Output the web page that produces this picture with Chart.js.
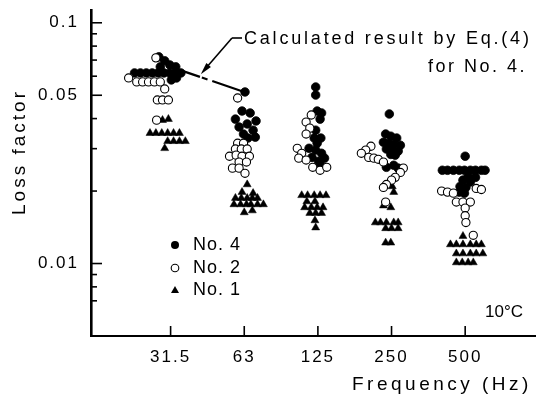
<!DOCTYPE html>
<html lang="en">
<head>
    <meta charset="UTF-8">
    <title>Loss factor vs frequency</title>
    <script src="https://cdn.jsdelivr.net/npm/chart.js"></script>
    <style>
        body {
            margin: 0;
            padding: 0;
            background-color: #fff;
            overflow: hidden;
        }
        canvas {
            display: block;
        }
    </style>
</head>
<body>

    <canvas id="lossChart" width="541" height="401"></canvas>

    <script>
        // Frequency bands (Hz)
        const categories = ['31.5', '63', '125', '250', '500'];

        // Measured points, one list per band: [offset from band centre, loss factor]
        const no4 = [
            [[-0.16, 0.0722], [-0.08, 0.0695], [-0.01, 0.0668], [-0.14, 0.0656], [0.07, 0.0656],
             [-0.49, 0.0619], [-0.41, 0.0619], [-0.33, 0.0619], [-0.25, 0.0619], [-0.17, 0.0619],
             [-0.09, 0.0619], [-0.01, 0.0619], [0.07, 0.0619], [0.14, 0.0619], [0.01, 0.0579], [0.08, 0.0590]],
            [[0.01, 0.0516], [-0.12, 0.0398], [-0.03, 0.0430], [0.08, 0.0422], [0.16, 0.0391], [-0.07, 0.0369],
             [0.04, 0.0380], [0.12, 0.0358], [-0.01, 0.0345], [0.05, 0.0332], [0.15, 0.0335]],
            [[-0.03, 0.0541], [-0.03, 0.0501], [-0.01, 0.0430], [0.05, 0.0422], [0.03, 0.0398], [-0.03, 0.0358],
             [-0.05, 0.0332], [0.04, 0.0332], [-0.01, 0.0316], [-0.12, 0.0301], [-0.03, 0.0296], [0.05, 0.0287],
             [0.09, 0.0274], [0.01, 0.0266], [-0.08, 0.0276], [0.04, 0.0256]],
            [[-0.03, 0.0418], [-0.08, 0.0345], [-0.01, 0.0338], [0.07, 0.0332], [-0.11, 0.0319], [-0.04, 0.0316],
             [0.03, 0.0313], [0.12, 0.0310], [-0.07, 0.0299], [0.01, 0.0296], [0.09, 0.0293], [-0.01, 0.0284],
             [0.05, 0.0282], [-0.07, 0.0251], [0.03, 0.0256], [0.09, 0.0249]],
            [[0, 0.0279], [-0.31, 0.0244], [-0.24, 0.0244], [-0.16, 0.0244], [-0.08, 0.0244], [-0.01, 0.0244],
             [0.07, 0.0244], [0.14, 0.0244], [0.22, 0.0244], [0.27, 0.0244], [0.04, 0.0230], [0.14, 0.0228],
             [-0.03, 0.0222], [0.07, 0.0218], [-0.07, 0.0209], [0.01, 0.0207], [-0.08, 0.0198], [-0.01, 0.0196]]
        ];

        const no2 = [
            [[-0.20, 0.0715], [-0.57, 0.0590], [-0.46, 0.0568], [-0.38, 0.0568], [-0.30, 0.0568], [-0.22, 0.0568],
             [-0.14, 0.0568], [-0.08, 0.0531], [-0.18, 0.0478], [-0.11, 0.0478], [-0.03, 0.0478], [-0.19, 0.0394]],
            [[-0.09, 0.0487], [-0.09, 0.0316], [-0.01, 0.0316], [-0.12, 0.0299], [-0.04, 0.0299], [0.04, 0.0299],
             [-0.20, 0.0279], [-0.11, 0.0282], [-0.03, 0.0279], [0.07, 0.0279], [-0.07, 0.0264], [0.03, 0.0264],
             [-0.16, 0.0249], [-0.07, 0.0249], [0.01, 0.0237]],
            [[-0.09, 0.0414], [-0.16, 0.0387], [-0.11, 0.0365], [-0.16, 0.0345], [-0.28, 0.0301], [-0.22, 0.0287],
             [-0.26, 0.0274], [-0.16, 0.0269], [-0.07, 0.0251], [0.03, 0.0244], [0.12, 0.0251]],
            [[-0.28, 0.0307], [-0.35, 0.0296], [-0.41, 0.0287], [-0.31, 0.0276], [-0.24, 0.0274], [-0.18, 0.0271],
             [-0.11, 0.0264], [0.16, 0.0249], [0.12, 0.0239], [0.05, 0.0228], [0, 0.0222], [-0.07, 0.0213],
             [-0.11, 0.0207], [-0.08, 0.0180]],
            [[-0.32, 0.0200], [-0.24, 0.0198], [-0.16, 0.0196], [0.15, 0.0205], [0.22, 0.0203], [-0.12, 0.0180],
             [-0.03, 0.0180], [0.07, 0.0180], [0, 0.0170], [0, 0.0158], [0.01, 0.0148], [0.11, 0.0131]]
        ];

        const no1 = [
            [[-0.11, 0.0394], [-0.03, 0.0398], [-0.28, 0.0348], [-0.20, 0.0348], [-0.12, 0.0348], [-0.04, 0.0348],
             [0.04, 0.0348], [0.12, 0.0348], [-0.04, 0.0322], [0.04, 0.0322], [0.12, 0.0322], [0.20, 0.0322],
             [-0.08, 0.0301]],
            [[0.04, 0.0213], [-0.03, 0.0198], [0.12, 0.0196], [-0.12, 0.0187], [-0.04, 0.0187], [0.04, 0.0187],
             [0.11, 0.0187], [0.18, 0.0187], [-0.14, 0.0176], [-0.05, 0.0176], [0.03, 0.0176], [0.09, 0.0176],
             [0.18, 0.0176], [0.26, 0.0176], [0, 0.0163], [0.11, 0.0166]],
            [[-0.22, 0.0192], [-0.14, 0.0192], [-0.05, 0.0192], [0.03, 0.0192], [0.11, 0.0192], [-0.15, 0.0181],
             [-0.04, 0.0181], [-0.18, 0.0171], [-0.09, 0.0171], [-0.01, 0.0171], [0.07, 0.0171], [-0.11, 0.0162],
             [-0.03, 0.0162], [0.05, 0.0162], [-0.04, 0.0151], [-0.03, 0.0141]],
            [[0.01, 0.0209], [0.03, 0.0198], [-0.11, 0.0174], [-0.01, 0.0171], [-0.22, 0.0148], [-0.15, 0.0148],
             [-0.07, 0.0148], [0.03, 0.0148], [0.09, 0.0148], [-0.08, 0.0140], [0, 0.0140], [0.09, 0.0140],
             [-0.08, 0.0122], [-0.01, 0.0122]],
            [[-0.03, 0.0130], [-0.20, 0.0120], [-0.12, 0.0120], [-0.03, 0.0120], [0.07, 0.0120], [0.15, 0.0120],
             [0.22, 0.0120], [-0.12, 0.0110], [-0.03, 0.0110], [0.07, 0.0110], [0.15, 0.0110], [0.24, 0.0110],
             [-0.12, 0.0101], [-0.04, 0.0101], [0.04, 0.0101], [0.11, 0.0101]]
        ];

        // Calculated result by Eq.(4) for No. 4 (31.5 Hz and 63 Hz)
        const calcValues = [0.0656, 0.0516];

        // Y axis ticks and the ones that carry a label
        const yTicks = [0.007, 0.008, 0.009, 0.01, 0.02, 0.03, 0.04, 0.05, 0.06, 0.07, 0.08, 0.09, 0.1];
        const yLabelValues = [0.01, 0.05, 0.1];
        const yLabelTexts = ['0.01', '0.05', '0.1'];

        const TEXT_FONT = '"Liberation Sans", Arial, sans-serif';

        function toPoints(series) {
            let pts = [];
            series.forEach((band, i) => {
                band.forEach(p => pts.push({ x: i + p[0], y: p[1] }));
            });
            return pts;
        }

        function labelFor(v) {
            let idx = yLabelValues.findIndex(l => Math.abs(l - v) < 1e-9);
            return idx >= 0 ? yLabelTexts[idx] : '';
        }

        function drawText(ctx, str, x, y, size, spacing, align, baseline) {
            ctx.font = size + 'px ' + TEXT_FONT;
            ctx.letterSpacing = spacing + 'px';
            ctx.textAlign = align || 'left';
            ctx.textBaseline = baseline || 'middle';
            ctx.fillText(str, x, y);
        }

        function line(ctx, x1, y1, x2, y2) {
            ctx.beginPath();
            ctx.moveTo(x1, y1);
            ctx.lineTo(x2, y2);
            ctx.stroke();
        }

        // Inward ticks, titles, legend and the annotation arrow
        const overlay = {
            id: 'overlay',
            beforeDraw(chart) {
                // spaced-out digits on the axes
                chart.ctx.letterSpacing = '2px';
            },
            afterDraw(chart) {
                const { ctx, chartArea: a, scales: { x, y } } = chart;
                ctx.save();
                ctx.letterSpacing = '0px';
                ctx.strokeStyle = '#000';
                ctx.fillStyle = '#000';

                // ticks pointing into the plot
                ctx.lineWidth = 1.6;
                yTicks.forEach(v => {
                    let py = y.getPixelForValue(v);
                    line(ctx, a.left, py, a.left + (labelFor(v) ? 11 : 6), py);
                });
                categories.forEach((c, i) => {
                    let px = x.getPixelForValue(i);
                    line(ctx, px, a.bottom, px, a.bottom - 10);
                });

                // axis titles
                drawText(ctx, 'Frequency (Hz)', 352, 390, 19, 3.5, 'left', 'alphabetic');
                ctx.save();
                ctx.translate(25, 152);
                ctx.rotate(-Math.PI / 2);
                drawText(ctx, 'Loss factor', 0, 0, 19, 3, 'center', 'alphabetic');
                ctx.restore();

                // legend
                const rows = [245, 268, 290];
                const mx = 175;
                ctx.lineWidth = 1.1;
                ctx.beginPath();
                ctx.arc(mx, rows[0], 4, 0, Math.PI * 2);
                ctx.fill();
                ctx.beginPath();
                ctx.arc(mx, rows[1], 3.8, 0, Math.PI * 2);
                ctx.stroke();
                ctx.beginPath();
                ctx.moveTo(mx, rows[2] - 4);
                ctx.lineTo(mx + 4, rows[2] + 3);
                ctx.lineTo(mx - 4, rows[2] + 3);
                ctx.closePath();
                ctx.fill();
                drawText(ctx, 'No. 4', 193, rows[0], 18, 1);
                drawText(ctx, 'No. 2', 193, rows[1], 18, 1);
                drawText(ctx, 'No. 1', 193, rows[2], 18, 1);

                drawText(ctx, '10°C', 485, 312, 17, 0);

                // annotation with arrow onto the calculated line
                drawText(ctx, 'Calculated result by Eq.(4)', 244, 39, 18, 2.8);
                drawText(ctx, 'for No. 4.', 527, 67, 18, 2.5, 'right');

                const pts = chart.getDatasetMeta(0).data;
                const t = 0.41;
                const tip = {
                    x: pts[0].x + t * (pts[1].x - pts[0].x),
                    y: pts[0].y + t * (pts[1].y - pts[0].y) - 3
                };
                const bend = { x: 232, y: 38 };
                let dx = tip.x - bend.x, dy = tip.y - bend.y;
                let len = Math.sqrt(dx * dx + dy * dy);
                dx /= len; dy /= len;
                ctx.lineWidth = 1.6;
                line(ctx, bend.x + 10, bend.y, bend.x, bend.y);
                line(ctx, bend.x, bend.y, tip.x - dx * 8, tip.y - dy * 8);
                ctx.beginPath();
                ctx.moveTo(tip.x, tip.y);
                ctx.lineTo(tip.x - dx * 12 - dy * 3, tip.y - dy * 12 + dx * 3);
                ctx.lineTo(tip.x - dx * 12 + dy * 3, tip.y - dy * 12 - dx * 3);
                ctx.closePath();
                ctx.fill();

                ctx.restore();
            }
        };

        // keep the plot area exactly where the axes are, no label overhang
        function noPadding(s) {
            s.paddingTop = 0;
            s.paddingBottom = 0;
            s.paddingLeft = 0;
            s.paddingRight = 0;
        }

        const ctx = document.getElementById('lossChart').getContext('2d');
        const lossChart = new Chart(ctx, {
            type: 'scatter',
            data: {
                datasets: [{
                    label: 'Calculated',
                    type: 'line',
                    data: calcValues.map((v, i) => ({ x: i, y: v })),
                    borderColor: '#000',
                    borderWidth: 2.2,
                    borderDash: [31, 2, 6, 5, 60],
                    pointRadius: 0,
                    fill: false,
                    order: 4
                }, {
                    label: 'No. 4',
                    data: toPoints(no4),
                    pointStyle: 'circle',
                    pointRadius: 4.3,
                    backgroundColor: '#000',
                    borderColor: '#000',
                    borderWidth: 0.8,
                    order: 2
                }, {
                    label: 'No. 2',
                    data: toPoints(no2),
                    pointStyle: 'circle',
                    pointRadius: 4.1,
                    backgroundColor: '#fff',
                    borderColor: '#000',
                    borderWidth: 1.1,
                    order: 1
                }, {
                    label: 'No. 1',
                    data: toPoints(no1),
                    pointStyle: 'triangle',
                    pointRadius: 4.6,
                    backgroundColor: '#000',
                    borderColor: '#000',
                    borderWidth: 0.5,
                    order: 3
                }]
            },
            options: {
                responsive: false,
                devicePixelRatio: 1,
                animation: false,
                layout: {
                    padding: { top: 10, right: 3, left: 0, bottom: 0 }
                },
                plugins: {
                    legend: { display: false },
                    tooltip: { enabled: false }
                },
                scales: {
                    x: {
                        type: 'linear',
                        min: -1.081,
                        max: 4.959,
                        grid: { display: false, drawTicks: false },
                        border: { display: true, color: '#000', width: 2 },
                        ticks: {
                            autoSkip: false,
                            padding: 11,
                            color: '#000',
                            font: { family: TEXT_FONT, size: 17 },
                            callback: v => categories[v] !== undefined ? categories[v] : ''
                        },
                        afterBuildTicks: s => { s.ticks = categories.map((c, i) => ({ value: i })); },
                        afterFit: s => { s.height = 65; noPadding(s); }
                    },
                    y: {
                        type: 'logarithmic',
                        min: 0.005,
                        max: 0.113,
                        grid: { display: false, drawTicks: false },
                        border: { display: true, color: '#000', width: 2.6 },
                        ticks: {
                            autoSkip: false,
                            padding: 12,
                            color: '#000',
                            font: { family: TEXT_FONT, size: 17 },
                            callback: v => labelFor(v)
                        },
                        afterBuildTicks: s => { s.ticks = yTicks.map(v => ({ value: v })); },
                        afterFit: s => { s.width = 91; noPadding(s); }
                    }
                }
            },
            plugins: [overlay]
        });
    </script>

</body>
</html>
